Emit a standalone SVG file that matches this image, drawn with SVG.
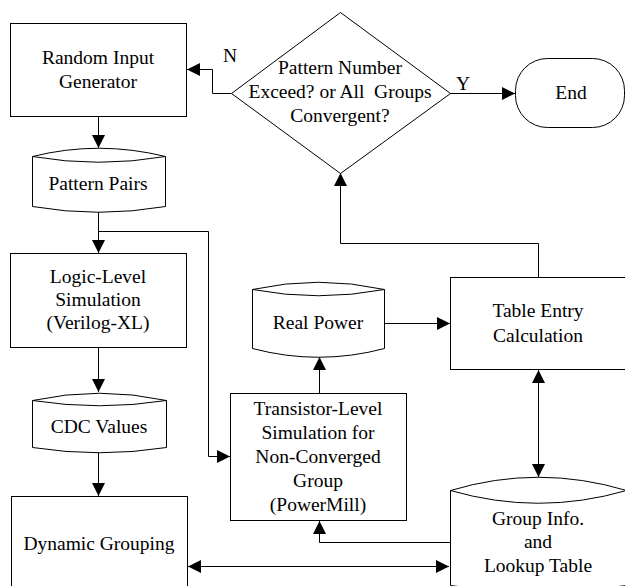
<svg xmlns="http://www.w3.org/2000/svg" width="625" height="586" viewBox="0 0 625 586" font-family="Liberation Serif, DejaVu Serif, serif">
<style>
.s{fill:#fff;stroke:#000;stroke-width:1}
.c{fill:none;stroke:#000;stroke-width:1}
.t{font-family:'Liberation Serif','DejaVu Serif',serif;font-size:19.5px;fill:#000;text-anchor:middle}
</style>
<defs>
<marker id="ah" markerUnits="userSpaceOnUse" markerWidth="14" markerHeight="13" refX="13" refY="6.5" orient="auto-start-reverse">
<path d="M0,0 L13,6.5 L0,13 z" fill="#000"/>
</marker>
</defs>
<rect width="625" height="586" fill="#fff"/>
<g id="connectors">
<path class="c" d="M231,93.5 H212.5 V69.5 H187" marker-end="url(#ah)"/>
<path class="c" d="M450,93.5 H515" marker-end="url(#ah)"/>
<path class="c" d="M98.5,116 V148" marker-end="url(#ah)"/>
<path class="c" d="M98.5,212 V253" marker-end="url(#ah)"/>
<path class="c" d="M98.5,231.5 H208.5 V456.5 H230" marker-end="url(#ah)"/>
<path class="c" d="M98.5,347 V392" marker-end="url(#ah)"/>
<path class="c" d="M98.5,452 V496" marker-end="url(#ah)"/>
<path class="c" d="M188,566.5 H449" marker-start="url(#ah)" marker-end="url(#ah)"/>
<path class="c" d="M450,542.5 H319.5 V521" marker-end="url(#ah)"/>
<path class="c" d="M319.5,393 V357" marker-end="url(#ah)"/>
<path class="c" d="M384,323.5 H450" marker-end="url(#ah)"/>
<path class="c" d="M538.5,277 V243.5 H340.5 V173" marker-end="url(#ah)"/>
<path class="c" d="M538.5,370 V477" marker-start="url(#ah)" marker-end="url(#ah)"/>
</g>
<g id="random-input">
<rect class="s" x="10.5" y="23.5" width="176" height="93"/>
<text class="t" x="98" y="64">Random Input</text>
<text class="t" x="98" y="88">Generator</text>
</g>
<g id="decision">
<path class="s" d="M340.5,12.5 L450.5,93.5 L340.5,173.5 L231.5,93.5 z"/>
<text class="t" x="340" y="74">Pattern Number</text>
<text class="t" x="340" y="98" xml:space="preserve">Exceed? or All  Groups</text>
<text class="t" x="340" y="122">Convergent?</text>
</g>
<g id="label-n"><text class="t" x="230" y="62">N</text></g>
<g id="label-y"><text class="t" x="463" y="90">Y</text></g>
<g id="end">
<rect class="s" x="515.5" y="58.5" width="109" height="69" rx="32" ry="32"/>
<text class="t" x="571" y="99">End</text>
</g>
<g id="pattern-pairs">
<path class="s" d="M32.5,156.5 Q98.5,140 165.5,156.5 V206.5 Q98.5,218 32.5,206.5 z"/>
<path class="c" d="M32.5,156.5 Q98.5,168 165.5,156.5"/>
<text class="t" x="98" y="190">Pattern Pairs</text>
</g>
<g id="logic-level">
<rect class="s" x="10.5" y="253.5" width="176" height="94"/>
<text class="t" x="98" y="283">Logic-Level</text>
<text class="t" x="98" y="306">Simulation</text>
<text class="t" x="98" y="329">(Verilog-XL)</text>
</g>
<g id="cdc-values">
<path class="s" d="M32.5,400.5 Q99.5,386 166.5,400.5 V447.5 Q99.5,458 32.5,447.5 z"/>
<path class="c" d="M32.5,400.5 Q99.5,411 166.5,400.5"/>
<text class="t" x="99" y="433">CDC Values</text>
</g>
<g id="dynamic-grouping">
<rect class="s" x="11.5" y="496.5" width="176" height="100"/>
<text class="t" x="99" y="550">Dynamic Grouping</text>
</g>
<g id="transistor-level">
<rect class="s" x="230.5" y="393.5" width="176" height="127"/>
<text class="t" x="318" y="415">Transistor-Level</text>
<text class="t" x="318" y="439">Simulation for</text>
<text class="t" x="318" y="463">Non-Converged</text>
<text class="t" x="318" y="487">Group</text>
<text class="t" x="318" y="511">(PowerMill)</text>
</g>
<g id="real-power">
<path class="s" d="M252.5,289.5 Q318.5,275 384.5,289.5 V348.5 Q318.5,366 252.5,348.5 z"/>
<path class="c" d="M252.5,289.5 Q318.5,302 384.5,289.5"/>
<text class="t" x="318" y="329">Real Power</text>
</g>
<g id="table-entry">
<rect class="s" x="450.5" y="277.5" width="176" height="92"/>
<text class="t" x="538" y="317">Table Entry</text>
<text class="t" x="538" y="342">Calculation</text>
</g>
<g id="group-info">
<path class="s" d="M450.5,490.5 Q538.5,464 626.5,490.5 V585.5 Q538.5,600 450.5,585.5 z"/>
<path class="c" d="M450.5,490.5 Q538.5,516 626.5,490.5"/>
<text class="t" x="538" y="525">Group Info.</text>
<text class="t" x="538" y="548">and</text>
<text class="t" x="538" y="572">Lookup Table</text>
</g>
</svg>
